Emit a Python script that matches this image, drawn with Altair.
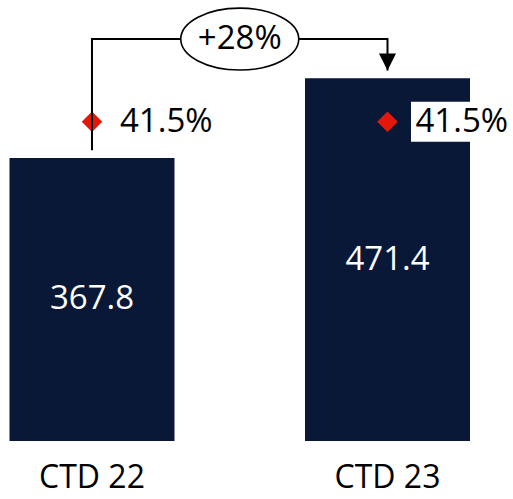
import altair as alt
import pandas as pd

# --- data -------------------------------------------------------------
categories = ["CTD 22", "CTD 23"]
values = [367.8, 471.4]
margins = [41.5, 41.5]

NAVY = "#0a1838"
RED = "#e3170a"
FONT = "Open Sans"
FS = 33

idx = list(range(len(categories)))
bars = pd.DataFrame({
    "i": idx,
    "category": categories,
    "value": values,
    "margin": margins,
    "value_label": [f"{v:.1f}" for v in values],
    "margin_label": [f"{m:.1f}%" for m in margins],
})

# scales: bar values and the margin percentages each get their own
y_max = 573.1
pct_max = 57.31
ys = alt.Scale(domain=[0, y_max], nice=False, zero=True, padding=0)
ps = alt.Scale(domain=[0, pct_max], nice=False, zero=True, padding=0)
xs = alt.Scale(domain=[-0.3113, 1.4247], nice=False, zero=False, padding=0)

# growth bracket from the first bar to the second
gap = 10
bracket = max(values) * 1.108
connector = pd.DataFrame({
    "i": [0, 0, 1, 1],
    "y": [values[0] + gap, bracket, bracket, values[1] + gap],
    "order": [0, 1, 2, 3],
})
growth = values[1] / values[0] - 1
badge = pd.DataFrame({"i": [0.5], "y": [bracket], "label": [f"+{growth * 100:.0f}%"]})
arrow = pd.DataFrame({"i": [1], "y": [values[1] + gap]})

X = alt.X("i:Q", scale=xs, axis=None)

bar_layer = alt.Chart(bars).mark_bar(size=165, color=NAVY).encode(
    x=X, y=alt.Y("value:Q", scale=ys, axis=None)
)

value_text = alt.Chart(bars).transform_calculate(mid="datum.value / 2").mark_text(
    font=FONT, fontSize=FS, color="white", align="center", baseline="middle"
).encode(x=X, y=alt.Y("mid:Q", scale=ys, axis=None), text="value_label:N")

label_box = alt.Chart(bars).mark_rect(
    fill="white", xOffset=23.5, x2Offset=126, yOffset=-20, y2Offset=20
).encode(
    x=X, x2="i:Q",
    y=alt.Y("margin:Q", scale=ps, axis=None), y2="margin:Q",
)

diamonds = alt.Chart(bars).mark_point(
    shape="diamond", size=420, filled=True, color=RED, opacity=1
).encode(x=X, y=alt.Y("margin:Q", scale=ps, axis=None))

margin_text = alt.Chart(bars).mark_text(
    font=FONT, fontSize=FS, color="black", align="left", baseline="middle", dx=28
).encode(x=X, y=alt.Y("margin:Q", scale=ps, axis=None), text="margin_label:N")

line = alt.Chart(connector).mark_line(color="black", strokeWidth=2).encode(
    x=X, y=alt.Y("y:Q", scale=ys, axis=None), order="order:Q"
)

arrow_head = alt.Chart(arrow).mark_point(
    shape="M -1 -2 L 1 -2 L 0 0 Z", size=289, filled=True, color="black", opacity=1
).encode(x=X, y=alt.Y("y:Q", scale=ys, axis=None))

ellipse = alt.Chart(badge).mark_point(
    shape="M -1 0 A 1 0.525 0 1 1 1 0 A 1 0.525 0 1 1 -1 0 Z",
    size=13924, filled=False, fill="white", fillOpacity=1,
    stroke="black", strokeWidth=1.6, opacity=1,
).encode(x=X, y=alt.Y("y:Q", scale=ys, axis=None))

badge_text = alt.Chart(badge).mark_text(
    font=FONT, fontSize=FS, color="black", align="center", baseline="middle"
).encode(x=X, y=alt.Y("y:Q", scale=ys, axis=None), text="label:N")

cat_text = alt.Chart(bars).mark_text(
    font=FONT, fontSize=FS - 1, color="black", align="center", baseline="alphabetic", dy=47
).encode(x=X, y=alt.YDatum(0, scale=ys, axis=None), text="category:N")

chart = alt.layer(
    bar_layer, label_box, diamonds, line, arrow_head, ellipse,
    badge_text, margin_text, value_text, cat_text,
).resolve_scale(y="independent").properties(
    width=513, height=441,
    autosize=alt.AutoSizeParams(type="none"),
    padding={"left": 0, "top": 0, "right": 0, "bottom": 58},
).configure_view(stroke=None)

chart.save("out.html", embed_options={"renderer": "svg", "actions": False})
